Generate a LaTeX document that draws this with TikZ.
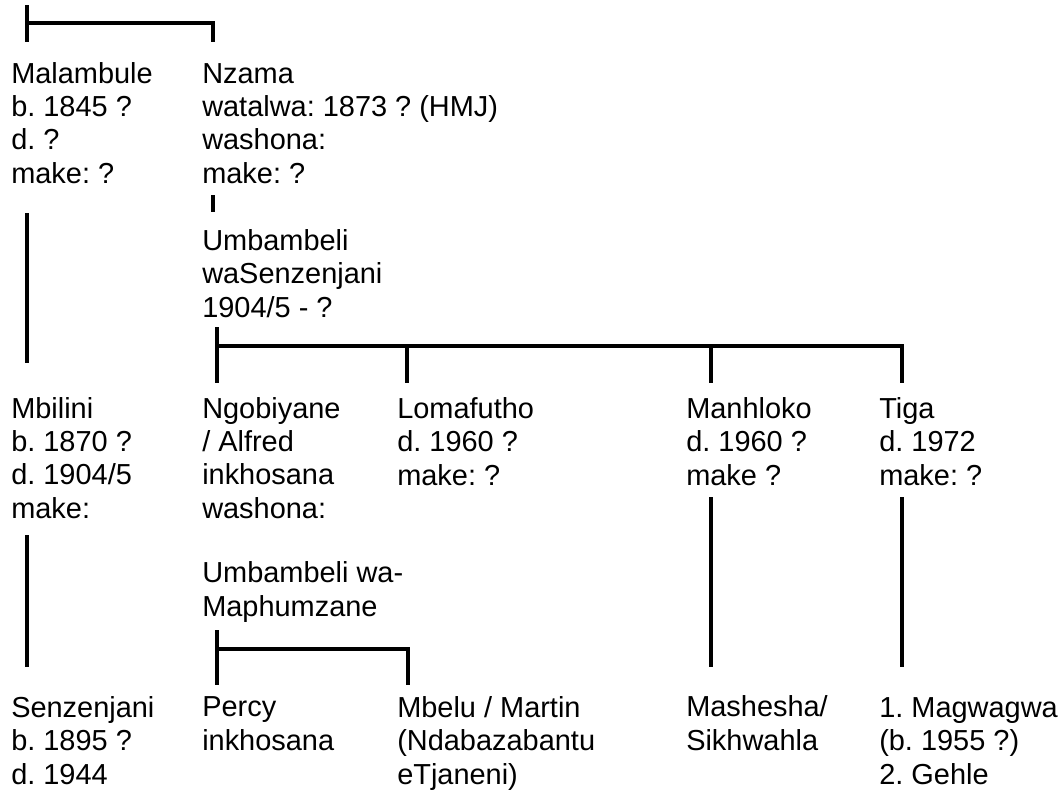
\documentclass[tikz,border=0pt]{standalone}
\usepackage{fontspec}
\setmainfont{Liberation Sans}
\frenchspacing
\usetikzlibrary{positioning}
\tikzset{
  person/.style={anchor=base west,align=left,inner sep=0pt,
                 font=\fontsize{21.7}{25}\selectfont},
  kin/.style={draw=black,line width=2.4pt,line join=miter},
}
\begin{document}
\begin{tikzpicture}[x=0.75pt,y=-0.75pt]
  \fill[white] (0,0) rectangle (1060,790);
  \useasboundingbox (0,0) rectangle (1060,790);
  % first generation (placed by the baseline of the last line)
  \node[person] (malambule) at (11,183) {Malambule\\b. 1845 ?\\d. ?\\make: ?};
  \node[person] (nzama) at (202,183) {Nzama\\watalwa: 1873 ? (HMJ)\\washona:\\make: ?};
  \node[person] (umbSen) at (202,317) {Umbambeli\\waSenzenjani\\1904/5 - ?};
  % second generation
  \node[person] (mbilini) at (11,518) {Mbilini\\b. 1870 ?\\d. 1904/5\\make:};
  \node[person] (ngobiyane) at (202,518) {Ngobiyane\\/ Alfred\\inkhosana\\washona:};
  \node[person] (lomafutho) at (397,485) {Lomafutho\\d. 1960 ?\\make: ?};
  \node[person] (manhloko) at (686,485) {Manhloko\\d. 1960 ?\\make ?};
  \node[person] (tiga) at (879,485) {Tiga\\d. 1972\\make: ?};
  \node[person] (umbMap) at (202,616) {Umbambeli wa-\\Maphumzane};
  % third generation
  \node[person] (senzenjani) at (11,784) {Senzenjani\\b. 1895 ?\\d. 1944};
  \node[person] (percy) at (202,750) {Percy\\inkhosana};
  \node[person] (mbelu) at (397,784) {Mbelu / Martin\\(Ndabazabantu\\eTjaneni)};
  \node[person] (mashesha) at (686,750) {Mashesha/\\Sikhwahla};
  \node[person] (magwagwa) at (879,784) {1. Magwagwa\\(b. 1955 ?)\\2. Gehle};
  % line ends and junctions
  \coordinate (topL) at (27,5);
  \coordinate (topJ) at (27,23);
  \coordinate (topR) at (213,42);
  \coordinate (malLow) at (27,42);
  \coordinate (nzaTick) at (213,195);
  \coordinate (nzaTickEnd) at (213,212);
  \coordinate (malDown) at (27,213);
  \coordinate (mbiUp) at (27,363);
  \coordinate (umbDown) at (217,327);
  \coordinate (sibBar) at (217,346);
  \coordinate (ngoUp) at (217,383);
  \coordinate (lomUp) at (407,383);
  \coordinate (manUp) at (711,383);
  \coordinate (tigUp) at (902,383);
  \coordinate (mbiDown) at (27,535);
  \coordinate (senUp) at (27,667);
  \coordinate (manDown) at (711,497);
  \coordinate (masUp) at (711,667);
  \coordinate (tigDown) at (902,497);
  \coordinate (magUp) at (902,667);
  \coordinate (mapDown) at (217,630);
  \coordinate (mapBar) at (217,649);
  \coordinate (perUp) at (217,685);
  \coordinate (mbeUp) at (408,685);
  % connectors
  \draw[kin] (topL) -- (malLow);
  \draw[kin] (topJ) -- (topJ -| topR) -- (topR);
  \draw[kin] (nzaTick) -- (nzaTickEnd);
  \draw[kin] (malDown) -- (mbiUp);
  \draw[kin] (umbDown) -- (ngoUp);
  \draw[kin] (sibBar) -- (sibBar -| tigUp) -- (tigUp);
  \draw[kin] (lomUp |- sibBar) -- (lomUp);
  \draw[kin] (manUp |- sibBar) -- (manUp);
  \draw[kin] (mbiDown) -- (senUp);
  \draw[kin] (manDown) -- (masUp);
  \draw[kin] (tigDown) -- (magUp);
  \draw[kin] (mapDown) -- (perUp);
  \draw[kin] (mapBar) -- (mapBar -| mbeUp) -- (mbeUp);
\end{tikzpicture}
\end{document}
